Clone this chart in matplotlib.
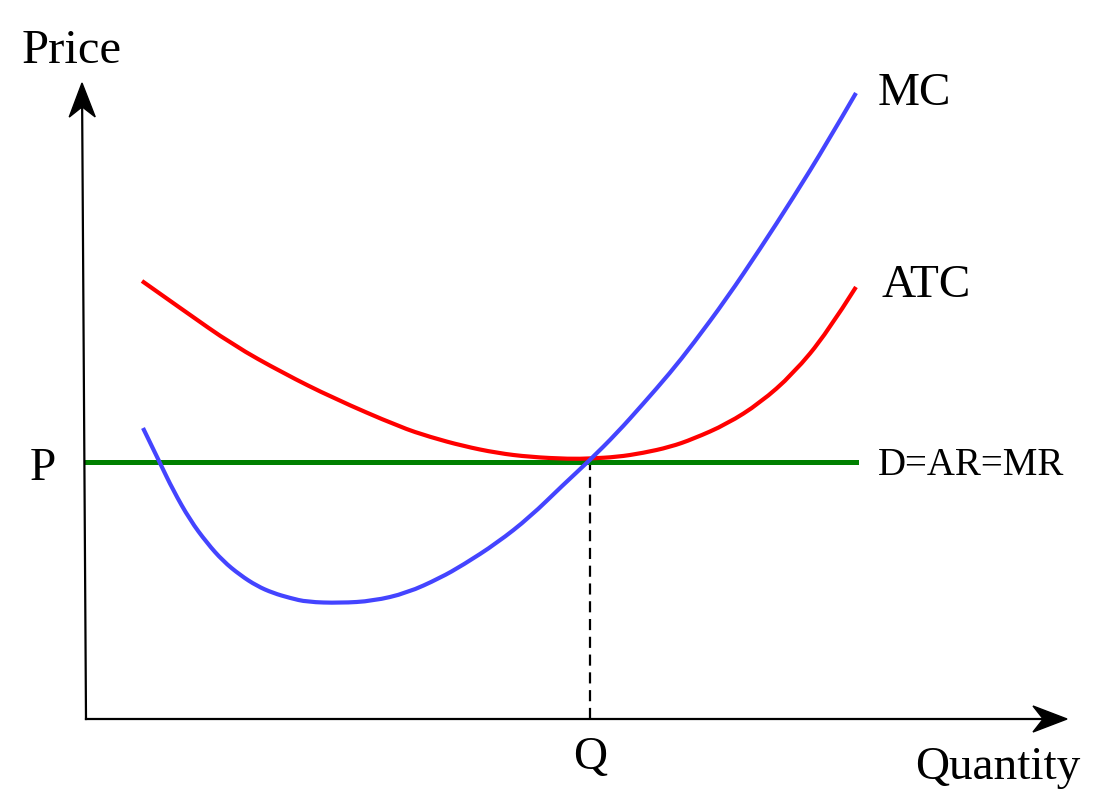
import matplotlib
matplotlib.use("Agg")
import matplotlib.pyplot as plt
from matplotlib.patches import Polygon, PathPatch
from matplotlib.path import Path
import numpy as np

# values (quantity, price), origin at the axes corner
mc_q = [57, 74, 87, 104, 121, 137, 154, 171, 187, 204, 221, 254, 287, 321, 354,
        377, 411, 444, 477, 504, 531, 557, 584, 607, 641, 674, 707, 741, 770]
mc_p = [291, 256, 229, 199, 176, 158, 144, 133, 126, 121, 117, 116, 118, 126, 141,
        154, 176, 202, 234, 259, 286, 315, 346, 375, 421, 470, 521, 576, 626]

atc_q = [56, 97, 147, 197, 247, 314, 344, 377, 411, 444, 484, 504, 531, 557, 584,
         607, 641, 674, 707, 741, 770]
atc_p = [438, 409, 374, 346, 321, 292, 282, 273, 266, 262, 260, 260.5, 262, 266, 272,
         280, 295, 316, 345, 386, 432]

demand_q = [0, 770]
demand_p = [257, 257]

q_star = 504
p_star = 257

x_max = 981
y_top = 636

font = "Liberation Serif"


def arrowHead(ax, tip, direction, length=34, width=26):
    d = np.array(direction, dtype=float)
    d = d / np.hypot(d[0], d[1])
    n = np.array([-d[1], d[0]])
    tip = np.array(tip, dtype=float)
    base = tip - d * length
    notch = tip - d * length * 0.7
    pts = [tip, base + n * width / 2, notch, base - n * width / 2]
    ax.add_patch(Polygon(pts, closed=True, color="black", zorder=5))


def smoothCurve(ax, xs, ys, color, lw):
    # quadratic bezier through the read points, the points act as control points
    pts = list(zip(xs, ys))
    verts = [pts[0]]
    codes = [Path.MOVETO]
    for i in range(1, len(pts) - 1):
        if i < len(pts) - 2:
            end = ((pts[i][0] + pts[i + 1][0]) / 2, (pts[i][1] + pts[i + 1][1]) / 2)
        else:
            end = pts[i + 1]
        verts += [pts[i], end]
        codes += [Path.CURVE3, Path.CURVE3]
    ax.add_patch(PathPatch(Path(verts, codes), facecolor="none", edgecolor=color,
                           lw=lw, capstyle="butt", zorder=3))


fig = plt.figure(figsize=(11, 7.99), dpi=100)
ax = fig.add_axes([0, 0, 1, 1])
ax.set_xlim(-86, 1014)
ax.set_ylim(-80, 719)
ax.axis("off")

# axes
ax.plot([0, x_max - 20], [0, 0], color="black", lw=1.6, zorder=4)
ax.plot([0, -4 * (y_top - 20) / y_top], [0, y_top - 20], color="black", lw=1.6, zorder=4)
arrowHead(ax, (x_max, 0), (1, 0))
arrowHead(ax, (-4, y_top), (-4, y_top))

# curves
ax.plot([q_star, q_star], [0, p_star], color="black", lw=1.6, dashes=(5, 3), zorder=2)
ax.plot(demand_q, demand_p, color="#008000", lw=3.6, zorder=3)
smoothCurve(ax, atc_q, atc_p, "#ff0000", 3.0)
smoothCurve(ax, mc_q, mc_p, "#4444ff", 3.0)

# labels
ax.text(-14, 656, "Price", fontsize=35, family=font, ha="center", va="baseline")
ax.text(792, 614, "MC", fontsize=34, family=font, ha="left", va="baseline")
ax.text(795, 422, "ATC", fontsize=34, family=font, ha="left", va="baseline")
ax.text(792, 244, "D=AR=MR", fontsize=28, family=font, ha="left", va="baseline")
ax.text(-43, 239, "P", fontsize=34, family=font, ha="center", va="baseline")
ax.text(q_star, -50, "Q", fontsize=34, family=font, ha="center", va="baseline")
ax.text(829, -60, "Quantity", fontsize=34, family=font, ha="left", va="baseline")

fig.savefig("out.png", dpi=100)
